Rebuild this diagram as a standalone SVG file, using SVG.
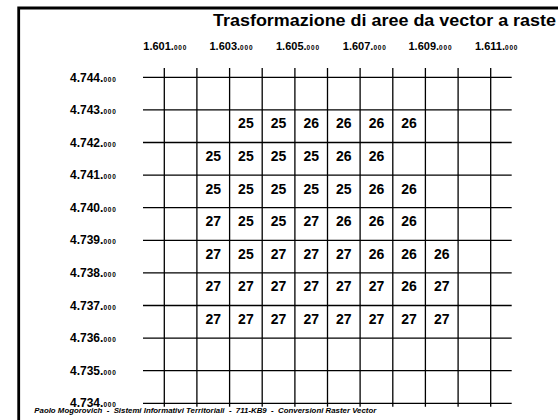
<svg xmlns="http://www.w3.org/2000/svg" width="558" height="420" viewBox="0 0 558 420">
<style>
.frame{stroke:#000;stroke-width:2.8;fill:none}
.grid line{stroke:#000;stroke-width:1.3}
.title{font-family:"Liberation Sans",Arial,sans-serif;font-weight:bold;font-size:17px;fill:#000}
.xl{font-family:"Liberation Sans",Arial,sans-serif;font-weight:bold;font-size:11px;fill:#000}
.yl{font-family:"Liberation Sans",Arial,sans-serif;font-weight:bold;font-size:12px;fill:#000}
.sm{font-size:6.5px;letter-spacing:0.8px}
.v{font-family:"Liberation Sans",Arial,sans-serif;font-weight:bold;font-size:14px;fill:#000;text-anchor:middle}
.foot{font-family:"Liberation Sans",Arial,sans-serif;font-weight:bold;font-style:italic;font-size:7px;fill:#000}
</style>
<rect width="558" height="420" fill="#fff"/>
<g id="frame">
<polyline class="frame" points="18.7,420 18.7,8 558,8"/>
</g>
<text class="title" x="213" y="26" textLength="343" lengthAdjust="spacingAndGlyphs">Trasformazione di aree da vector a raste</text>
<g id="x-axis">
<text class="xl" x="143.3" y="50">1.601.<tspan class="sm">000</tspan></text>
<text class="xl" x="209.5" y="50">1.603.<tspan class="sm">000</tspan></text>
<text class="xl" x="276" y="50">1.605.<tspan class="sm">000</tspan></text>
<text class="xl" x="342.8" y="50">1.607.<tspan class="sm">000</tspan></text>
<text class="xl" x="408.5" y="50">1.609.<tspan class="sm">000</tspan></text>
<text class="xl" x="475" y="50">1.611.<tspan class="sm">000</tspan></text>
</g>
<g id="y-axis">
<text class="yl" x="70" y="81.5">4.744.<tspan class="sm">000</tspan></text>
<text class="yl" x="70" y="114">4.743.<tspan class="sm">000</tspan></text>
<text class="yl" x="70" y="146.6">4.742.<tspan class="sm">000</tspan></text>
<text class="yl" x="70" y="179.2">4.741.<tspan class="sm">000</tspan></text>
<text class="yl" x="70" y="211.8">4.740.<tspan class="sm">000</tspan></text>
<text class="yl" x="70" y="244.4">4.739.<tspan class="sm">000</tspan></text>
<text class="yl" x="70" y="277">4.738.<tspan class="sm">000</tspan></text>
<text class="yl" x="70" y="309.6">4.737.<tspan class="sm">000</tspan></text>
<text class="yl" x="70" y="342.2">4.736.<tspan class="sm">000</tspan></text>
<text class="yl" x="70" y="374.8">4.735.<tspan class="sm">000</tspan></text>
<text class="yl" x="70" y="407.4">4.734.<tspan class="sm">000</tspan></text>
</g>
<g id="grid" class="grid">
<line x1="164.3" y1="68" x2="164.3" y2="406.7"/>
<line x1="196.9" y1="68" x2="196.9" y2="406.7"/>
<line x1="229.6" y1="68" x2="229.6" y2="406.7"/>
<line x1="262.2" y1="68" x2="262.2" y2="406.7"/>
<line x1="294.9" y1="68" x2="294.9" y2="406.7"/>
<line x1="327.5" y1="68" x2="327.5" y2="406.7"/>
<line x1="360.1" y1="68" x2="360.1" y2="406.7"/>
<line x1="392.8" y1="68" x2="392.8" y2="406.7"/>
<line x1="425.4" y1="68" x2="425.4" y2="406.7"/>
<line x1="458.1" y1="68" x2="458.1" y2="406.7"/>
<line x1="490.7" y1="68" x2="490.7" y2="406.7"/>
<line x1="143" y1="77.3" x2="511.7" y2="77.3"/>
<line x1="143" y1="109.9" x2="511.7" y2="109.9"/>
<line x1="143" y1="142.5" x2="511.7" y2="142.5"/>
<line x1="143" y1="175.1" x2="511.7" y2="175.1"/>
<line x1="143" y1="207.7" x2="511.7" y2="207.7"/>
<line x1="143" y1="240.3" x2="511.7" y2="240.3"/>
<line x1="143" y1="272.9" x2="511.7" y2="272.9"/>
<line x1="143" y1="305.5" x2="511.7" y2="305.5"/>
<line x1="143" y1="338.1" x2="511.7" y2="338.1"/>
<line x1="143" y1="370.7" x2="511.7" y2="370.7"/>
<line x1="143" y1="403.3" x2="511.7" y2="403.3"/>
</g>
<g id="values">
<g id="row1">
<text class="v" x="245.9" y="128.4">25</text><text class="v" x="278.5" y="128.4">25</text><text class="v" x="311.2" y="128.4">26</text><text class="v" x="343.8" y="128.4">26</text><text class="v" x="376.5" y="128.4">26</text><text class="v" x="409.1" y="128.4">26</text>
</g>
<g id="row2">
<text class="v" x="213.2" y="161">25</text><text class="v" x="245.9" y="161">25</text><text class="v" x="278.5" y="161">25</text><text class="v" x="311.2" y="161">25</text><text class="v" x="343.8" y="161">26</text><text class="v" x="376.5" y="161">26</text>
</g>
<g id="row3">
<text class="v" x="213.2" y="193.6">25</text><text class="v" x="245.9" y="193.6">25</text><text class="v" x="278.5" y="193.6">25</text><text class="v" x="311.2" y="193.6">25</text><text class="v" x="343.8" y="193.6">25</text><text class="v" x="376.5" y="193.6">26</text><text class="v" x="409.1" y="193.6">26</text>
</g>
<g id="row4">
<text class="v" x="213.2" y="226.2">27</text><text class="v" x="245.9" y="226.2">25</text><text class="v" x="278.5" y="226.2">25</text><text class="v" x="311.2" y="226.2">27</text><text class="v" x="343.8" y="226.2">26</text><text class="v" x="376.5" y="226.2">26</text><text class="v" x="409.1" y="226.2">26</text>
</g>
<g id="row5">
<text class="v" x="213.2" y="258.8">27</text><text class="v" x="245.9" y="258.8">25</text><text class="v" x="278.5" y="258.8">27</text><text class="v" x="311.2" y="258.8">27</text><text class="v" x="343.8" y="258.8">27</text><text class="v" x="376.5" y="258.8">26</text><text class="v" x="409.1" y="258.8">26</text><text class="v" x="441.8" y="258.8">26</text>
</g>
<g id="row6">
<text class="v" x="213.2" y="291.4">27</text><text class="v" x="245.9" y="291.4">27</text><text class="v" x="278.5" y="291.4">27</text><text class="v" x="311.2" y="291.4">27</text><text class="v" x="343.8" y="291.4">27</text><text class="v" x="376.5" y="291.4">27</text><text class="v" x="409.1" y="291.4">26</text><text class="v" x="441.8" y="291.4">27</text>
</g>
<g id="row7">
<text class="v" x="213.2" y="324">27</text><text class="v" x="245.9" y="324">27</text><text class="v" x="278.5" y="324">27</text><text class="v" x="311.2" y="324">27</text><text class="v" x="343.8" y="324">27</text><text class="v" x="376.5" y="324">27</text><text class="v" x="409.1" y="324">27</text><text class="v" x="441.8" y="324">27</text>
</g>
</g>
<text class="foot" x="34.3" y="412.7" textLength="342" lengthAdjust="spacingAndGlyphs" xml:space="preserve">Paolo Mogorovich  -  Sistemi Informativi Territoriali  -  711-KB9  -  Conversioni Raster Vector</text>
</svg>
